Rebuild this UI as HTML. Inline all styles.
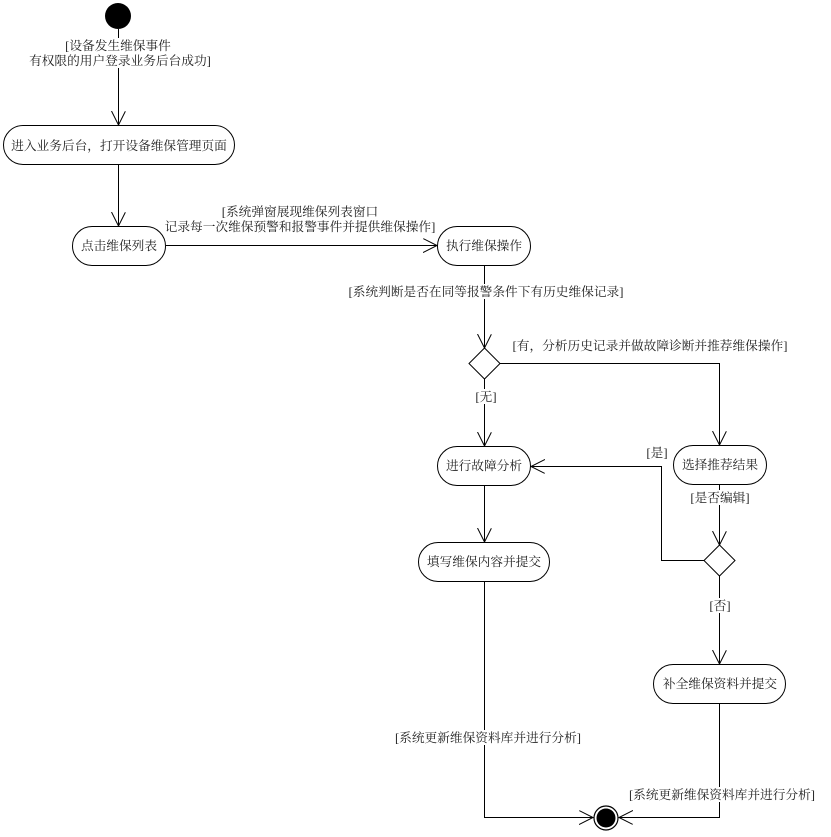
<!DOCTYPE html>
<html><head><meta charset="utf-8"><style>
html,body{margin:0;padding:0;background:#fff;}
svg{display:block;}
text{font-family:"Liberation Serif","Noto Serif CJK SC","Noto Sans CJK SC",serif;font-size:12.7px;fill:#222;}
.l{stroke:#000;stroke-width:1;fill:none;}
.b{stroke:#000;stroke-width:1;fill:#fff;}
</style></head><body>
<svg width="831" height="837" viewBox="0 0 831 837" xmlns="http://www.w3.org/2000/svg">
<defs>
<marker id="a" markerWidth="16" markerHeight="16" refX="14" refY="7" orient="auto" markerUnits="userSpaceOnUse">
<path d="M0,0 L14,7 L0,14" fill="none" stroke="#000" stroke-width="1"/>
</marker>
</defs>
<circle cx="118" cy="16" r="13" fill="#000"/>
<path class="l" d="M118.5,29 V125" marker-end="url(#a)"/>
<rect x="58" y="38" width="121" height="15" fill="#fff"/>
<rect x="24" y="53" width="194" height="15" fill="#fff"/>
<text x="118" y="50" text-anchor="middle">[设备发生维保事件</text>
<text x="120" y="65" text-anchor="middle">有权限的用户登录业务后台成功]</text>

<rect class="b" x="3.5" y="125.5" width="231" height="39" rx="19.5"/>
<text x="119" y="150" text-anchor="middle">进入业务后台，打开设备维保管理页面</text>
<path class="l" d="M118.5,165 V226" marker-end="url(#a)"/>

<rect class="b" x="72.5" y="226.5" width="93" height="39" rx="19.5"/>
<text x="119" y="250" text-anchor="middle">点击维保列表</text>
<path class="l" d="M166,245.5 H437" marker-end="url(#a)"/>
<text x="300" y="216" text-anchor="middle">[系统弹窗展现维保列表窗口</text>
<text x="300" y="231" text-anchor="middle">记录每一次维保预警和报警事件并提供维保操作]</text>

<rect class="b" x="437.5" y="226.5" width="93" height="39" rx="19.5"/>
<text x="484" y="250" text-anchor="middle">执行维保操作</text>
<path class="l" d="M484.5,266 V348" marker-end="url(#a)"/>
<rect x="346" y="284" width="280" height="15" fill="#fff"/>
<text x="486" y="296" text-anchor="middle">[系统判断是否在同等报警条件下有历史维保记录]</text>

<polygon class="b" points="484.5,348 500,363.5 484.5,379 469,363.5"/>
<path class="l" d="M500,363.5 H719.5 V445" marker-end="url(#a)"/>
<text x="650" y="350" text-anchor="middle">[有，分析历史记录并做故障诊断并推荐维保操作]</text>
<path class="l" d="M484.5,379 V446" marker-end="url(#a)"/>
<rect x="473" y="389" width="26" height="15" fill="#fff"/>
<text x="486" y="401" text-anchor="middle">[无]</text>

<rect class="b" x="437.5" y="446.5" width="93" height="39" rx="19.5"/>
<text x="484" y="470" text-anchor="middle">进行故障分析</text>
<path class="l" d="M484.5,486 V542" marker-end="url(#a)"/>

<rect class="b" x="673.5" y="445.5" width="93" height="39" rx="19.5"/>
<text x="720" y="469" text-anchor="middle">选择推荐结果</text>
<path class="l" d="M719.5,485 V545" marker-end="url(#a)"/>
<rect x="686" y="490" width="68" height="15" fill="#fff"/>
<text x="720" y="502" text-anchor="middle">[是否编辑]</text>

<polygon class="b" points="719.5,545 735,560.5 719.5,576 704,560.5"/>
<path class="l" d="M704,560.5 H661.5 V466.5 H531" marker-end="url(#a)"/>
<text x="657" y="457" text-anchor="middle">[是]</text>
<path class="l" d="M719.5,576 V664" marker-end="url(#a)"/>
<rect x="707" y="598" width="26" height="15" fill="#fff"/>
<text x="720" y="610" text-anchor="middle">[否]</text>

<rect class="b" x="418.5" y="542.5" width="131" height="39" rx="19.5"/>
<text x="484" y="566" text-anchor="middle">填写维保内容并提交</text>

<rect class="b" x="653.5" y="664.5" width="132" height="39" rx="19.5"/>
<text x="720" y="688" text-anchor="middle">补全维保资料并提交</text>

<path class="l" d="M484.5,582 V817.5 H593" marker-end="url(#a)"/>
<path class="l" d="M719.5,704 V817.5 H619" marker-end="url(#a)"/>
<rect x="392" y="730" width="192" height="15" fill="#fff"/>
<text x="488" y="742" text-anchor="middle">[系统更新维保资料库并进行分析]</text>
<rect x="626" y="787" width="192" height="15" fill="#fff"/>
<text x="722" y="799" text-anchor="middle">[系统更新维保资料库并进行分析]</text>

<circle cx="606" cy="818" r="12" fill="#fff" stroke="#000" stroke-width="1.2"/>
<circle cx="606" cy="818" r="9.5" fill="#000"/>
</svg>
</body></html>
